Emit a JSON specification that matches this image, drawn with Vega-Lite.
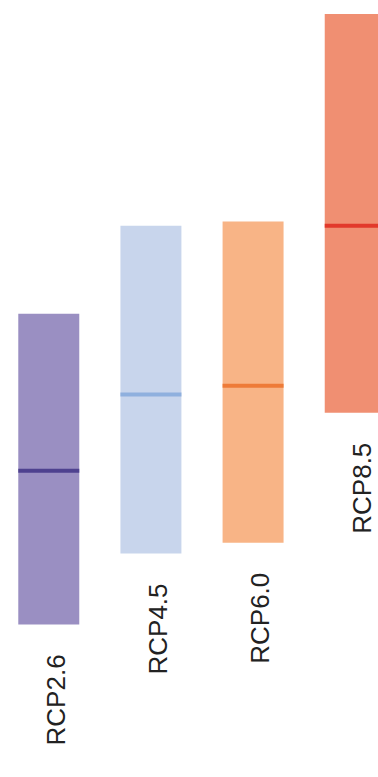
{
  "$schema": "https://vega.github.io/schema/vega-lite/v6.json",
  "width": 378,
  "height": 777,
  "padding": 0,
  "autosize": {"type": "fit", "contains": "padding"},
  "background": "white",
  "config": {"view": {"stroke": null}},
  "data": {
    "values": [
      {"scenario": "RCP2.6", "low": 0.258, "median": 0.401, "high": 0.547},
      {"scenario": "RCP4.5", "low": 0.324, "median": 0.472, "high": 0.629},
      {"scenario": "RCP6.0", "low": 0.334, "median": 0.480, "high": 0.633},
      {"scenario": "RCP8.5", "low": 0.455, "median": 0.629, "high": 0.826}
    ]
  },
  "encoding": {
    "x": {
      "field": "scenario",
      "type": "nominal",
      "axis": null,
      "scale": {"range": [0, 404], "paddingInner": 0.403, "paddingOuter": 0.179}
    }
  },
  "layer": [
    {
      "mark": {"type": "bar", "opacity": 1},
      "encoding": {
        "y": {"field": "low", "type": "quantitative", "axis": null, "scale": {"domain": [0.116, 0.839], "nice": false, "zero": false}},
        "y2": {"field": "high"},
        "color": {
          "field": "scenario",
          "type": "nominal",
          "legend": null,
          "scale": {"domain": ["RCP2.6", "RCP4.5", "RCP6.0", "RCP8.5"], "range": ["#9a8fc2", "#c8d5ec", "#f8b486", "#f08f72"]}
        }
      }
    },
    {
      "mark": {"type": "tick", "thickness": 4, "size": 61, "opacity": 1},
      "encoding": {
        "y": {"field": "median", "type": "quantitative"},
        "color": {
          "field": "scenario",
          "type": "nominal",
          "legend": null,
          "scale": {"domain": ["RCP2.6", "RCP4.5", "RCP6.0", "RCP8.5"], "range": ["#4e418f", "#8fb0de", "#ee7b38", "#e2392b"]}
        }
      }
    },
    {
      "mark": {"type": "text", "angle": -90, "align": "right", "baseline": "middle", "dx": -30, "dy": 8, "font": "Liberation Sans", "fontSize": 26, "color": "#222222"},
      "encoding": {
        "y": {"field": "low", "type": "quantitative"},
        "text": {"field": "scenario"}
      }
    }
  ],
  "resolve": {"scale": {"color": "independent"}}
}
